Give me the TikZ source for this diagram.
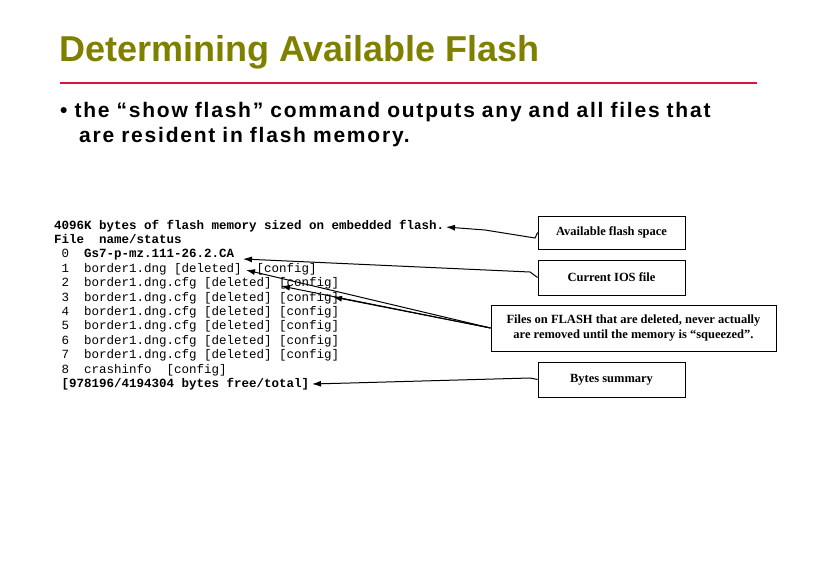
\documentclass[tikz,border=0pt]{standalone}
\usepackage{fontspec}
\usetikzlibrary{arrows.meta}
\setmainfont{Liberation Sans}
\newfontfamily\mono{Liberation Mono}
\newfontfamily\tms{Liberation Serif}
\newfontfamily\spaced{Liberation Sans}[LetterSpace=8.5]
\definecolor{olive2}{RGB}{128,128,0}
\definecolor{redline}{RGB}{220,20,60}
\begin{document}
\begin{tikzpicture}[x=1pt,y=-1pt,
  lbl/.style={draw,line width=0.8pt,font=\tms\bfseries\fontsize{12.5}{15}\selectfont,align=center,inner sep=0pt},
  code/.style={anchor=base west,font=\mono\fontsize{12.5}{14}\selectfont,inner sep=0pt},
  arr/.style={-{Latex[length=9pt,width=6pt]},line width=1pt}]
\useasboundingbox (0,0) rectangle (818,578);
\node[anchor=base west,inner sep=0pt,text=olive2,font=\bfseries\fontsize{36}{40}\selectfont] (title) at (59,62) {Determining Available Flash};
\draw[redline,line width=1.2pt] (60,83) -- (757,83);
\node[anchor=base west,inner sep=0pt,font=\spaced\bfseries\fontsize{21}{25.5}\selectfont,align=left,text width=740pt] (bul) at (60,117) {\textbullet\ the “show flash” command outputs any and all files that\\\hspace*{19pt}are resident in flash memory.};
\foreach \t [count=\i from 0] in {%
  {\bfseries 4096K~bytes~of~flash~memory~sized~on~embedded~flash.},
  {\bfseries File~~name/status},
  {~0~~\bfseries Gs7-p-mz.111-26.2.CA},
  {~1~~border1.dng~[deleted]~~[config]},
  {~2~~border1.dng.cfg~[deleted]~[config]},
  {~3~~border1.dng.cfg~[deleted]~[config]},
  {~4~~border1.dng.cfg~[deleted]~[config]},
  {~5~~border1.dng.cfg~[deleted]~[config]},
  {~6~~border1.dng.cfg~[deleted]~[config]},
  {~7~~border1.dng.cfg~[deleted]~[config]},
  {~8~~crashinfo~~[config]},
  {~\bfseries [978196/4194304~bytes~free/total]}}
  \node[code] (l\i) at (54,{229+14.4*\i}) {\t};
\node[lbl,minimum width=147pt,minimum height=33pt] (b1) at (611.5,232.5) {Available flash space};
\node[lbl,minimum width=147pt,minimum height=35pt] (b2) at (611.5,277.5) {Current IOS file};
\node[lbl,minimum width=285pt,minimum height=46pt] (b3) at (633.5,328) {Files on FLASH that are deleted, never actually\\are removed until the memory is “squeezed”.};
\node[lbl,minimum width=147pt,minimum height=35pt] (b4) at (611.5,379.5) {Bytes summary};
\coordinate (t1) at (446,227);
\coordinate (t2) at (243,259);
\coordinate (t3) at (246,270);
\coordinate (t4) at (281,286);
\coordinate (t5) at (333,297);
\coordinate (t6) at (312,384);
\draw[arr] (b1.west) -- (535,238) -- (485,230) -- (t1);
\draw[arr] (b2.west) -- (530,272) -- (t2);
\draw[arr] (b3.west) -- (t3);
\draw[arr] (b3.west) -- (t4);
\draw[arr] (b3.west) -- (t5);
\draw[arr] (b4.west) -- (530,378) -- (350,383) -- (t6);
\end{tikzpicture}
\end{document}
